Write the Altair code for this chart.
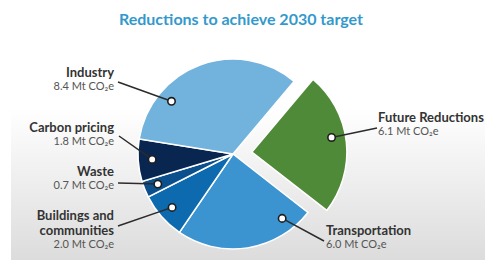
import altair as alt
import pandas as pd

# ---- data ----
categories = ["Future Reductions", "Transportation", "Buildings and communities",
              "Waste", "Carbon pricing", "Industry"]
values = [6.1, 6.0, 2.0, 0.7, 1.8, 8.4]
name_labels = ["Future Reductions", "Transportation", "Buildings and\ncommunities",
               "Waste", "Carbon pricing", "Industry"]
value_labels = ["6.1 Mt CO₂e", "6.0 Mt CO₂e", "2.0 Mt CO₂e",
                "0.7 Mt CO₂e", "1.8 Mt CO₂e", "8.4 Mt CO₂e"]
title_text = "Reductions to achieve 2030 target"

# ---- styles / layout ----
colors = ["#4f8a38", "#3b94d0", "#0e6aae", "#0b4f8d", "#082650", "#72b3de"]
W, H = 477, 252
CX, CY, R = 225, 146, 95
START = 0.70          # radians, clockwise from 12 o'clock
EXPLODE = 19
RM = 81               # radius of marker circles
LINE_H = 15
marker_frac = [0.45, 0.17, 0.5, 0.5, 0.5, 0.26]
side = ["right", "right", "left", "left", "left", "left"]
label_x = [370, 318, 106, 106, 106, 106]
label_y = [117, 230, 230, 171, 127, 72]
line_x = [369, 316, 110, 110, 111, 110]
line_y = [120, 233, 218, 175, 128, 74]

df = pd.DataFrame({
    "category": categories, "value": values, "name": name_labels,
    "vlabel": value_labels, "order": list(range(len(categories))),
    "frac": marker_frac, "side": side, "tx": label_x, "ty": label_y,
    "lx": line_x, "ly": line_y,
})

base = (
    alt.Chart(df)
    .transform_joinaggregate(total="sum(value)")
    .transform_window(cum="sum(value)", sort=[alt.SortField("order")], frame=[None, 0])
    .transform_calculate(
        a1=f"{START} + 2*PI*datum.cum/datum.total",
        a0=f"{START} + 2*PI*(datum.cum - datum.value)/datum.total",
        ny=f"datum.ty - (length(split(datum.name, '\\n')) - 1)*{LINE_H}",
    )
    .transform_calculate(
        mid="(datum.a0 + datum.a1)/2",
        ex=f"datum.category === 'Future Reductions' ? {EXPLODE} : 0",
    )
    .transform_calculate(
        cx=f"{CX} + datum.ex*sin(datum.mid)",
        cy=f"{CY} - datum.ex*cos(datum.mid)",
        ma="datum.a0 + datum.frac*(datum.a1 - datum.a0)",
    )
    .transform_calculate(
        mx=f"datum.cx + {RM}*sin(datum.ma)",
        my=f"datum.cy - {RM}*cos(datum.ma)",
    )
)

bg = alt.Chart(pd.DataFrame({"a": [0]})).mark_rect(
    fill=alt.Gradient(
        gradient="linear",
        stops=[alt.GradientStop(color="#ffffff", offset=0),
               alt.GradientStop(color="#ffffff", offset=0.4),
               alt.GradientStop(color="#dcdcdc", offset=1)],
        x1=0, x2=0, y1=0, y2=1,
    )
).encode(x=alt.value(3), x2=alt.value(W), y=alt.value(0), y2=alt.value(H))

arcs = base.mark_arc(radius=R, stroke="white", strokeWidth=1.5).encode(
    theta=alt.Theta("a0:Q", scale=None, stack=None),
    theta2="a1:Q",
    x=alt.X("cx:Q", scale=None),
    y=alt.Y("cy:Q", scale=None),
    color=alt.Color("category:N", scale=alt.Scale(domain=categories, range=colors), legend=None),
)

lines = base.mark_rule(color="#2b2b2b", strokeWidth=1.5).encode(
    x=alt.X("mx:Q", scale=None), y=alt.Y("my:Q", scale=None),
    x2="lx:Q", y2="ly:Q",
)

markers = base.mark_point(shape="circle", filled=True, fill="white", stroke="#1e1e1e",
                          strokeWidth=1.6, size=55, opacity=1).encode(
    x=alt.X("mx:Q", scale=None), y=alt.Y("my:Q", scale=None),
)

def labels(s, align):
    sub = base.transform_filter(f"datum.side === '{s}'")
    names = sub.mark_text(align=align, baseline="bottom", font="Lato", fontWeight="bold",
                          fontSize=13, color="#333333", lineBreak="\n", lineHeight=LINE_H).encode(
        x=alt.X("tx:Q", scale=None), y=alt.Y("ny:Q", scale=None), text="name:N")
    vals = sub.mark_text(align=align, baseline="top", font="Lato", fontSize=11,
                         color="#555555", dy=1).encode(
        x=alt.X("tx:Q", scale=None), y=alt.Y("ty:Q", scale=None), text="vlabel:N")
    return names + vals

title = alt.Chart(pd.DataFrame({"t": [title_text]})).mark_text(
    font="Lato", fontWeight="bold", fontSize=16, color="#3399cc", baseline="middle",
).encode(x=alt.value(233), y=alt.value(12), text="t:N")

chart = alt.layer(bg, arcs, lines, markers, labels("left", "right"), labels("right", "left"), title).properties(
    width=W, height=H, padding=0, autosize=alt.AutoSizeParams(type="none"),
).configure_view(stroke=None)

chart.save("out.html", embed_options={"renderer": "svg", "actions": False})
